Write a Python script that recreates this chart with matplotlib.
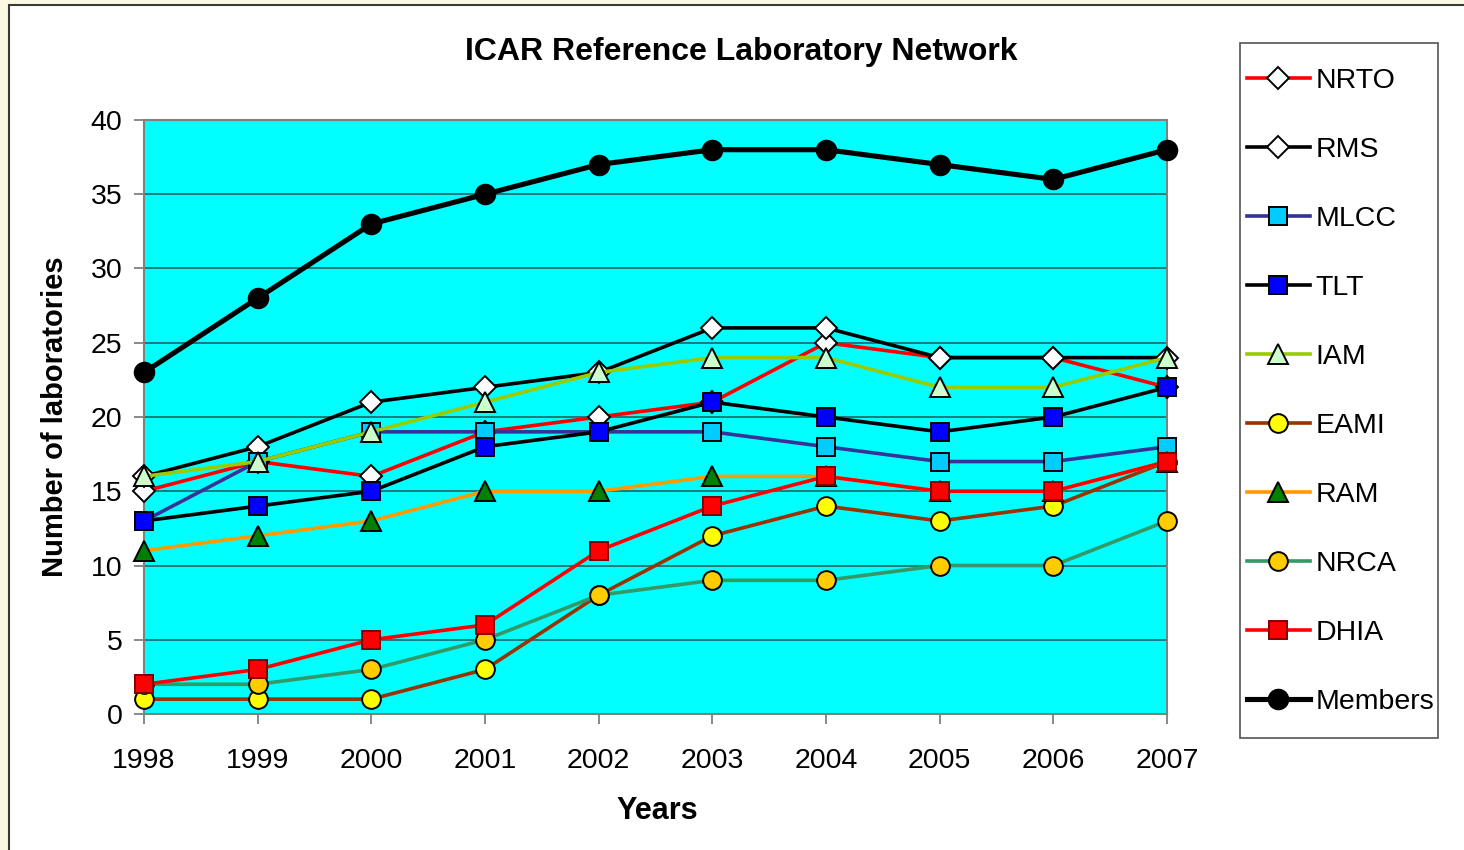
import matplotlib
matplotlib.use("Agg")
import matplotlib.pyplot as plt
from matplotlib.patches import Rectangle

years = [1998, 1999, 2000, 2001, 2002, 2003, 2004, 2005, 2006, 2007]
nrto = [15, 17, 16, 19, 20, 21, 25, 24, 24, 22]
rms = [16, 18, 21, 22, 23, 26, 26, 24, 24, 24]
mlcc = [13, 17, 19, 19, 19, 19, 18, 17, 17, 18]
tlt = [13, 14, 15, 18, 19, 21, 20, 19, 20, 22]
iam = [16, 17, 19, 21, 23, 24, 24, 22, 22, 24]
eami = [1, 1, 1, 3, 8, 12, 14, 13, 14, 17]
ram = [11, 12, 13, 15, 15, 16, 16, 15, 15, 17]
nrca = [2, 2, 3, 5, 8, 9, 9, 10, 10, 13]
dhia = [2, 3, 5, 6, 11, 14, 16, 15, 15, 17]
members = [23, 28, 33, 35, 37, 38, 38, 37, 36, 38]

plt.rcParams['font.family'] = ['Liberation Sans', 'DejaVu Sans']

W, H = 1464, 850
fig = plt.figure(figsize=(W / 100, H / 100), dpi=100)
fig.patch.set_facecolor('#fbf9e2')
fig.patches.append(Rectangle((9 / W, -0.01), 1.0, 1 - 5 / H + 0.01, transform=fig.transFigure,
                             facecolor='white', edgecolor='#3a3a3a', linewidth=1.5, zorder=-10))

ax = fig.add_axes([144 / W, 1 - 714 / H, (1167 - 144) / W, (714 - 120) / H])
ax.set_facecolor('#00ffff')

series = [
    ('NRTO', nrto, '#ff0000', 'D', 'white', 'black', 11.5),
    ('RMS', rms, '#000000', 'D', 'white', 'black', 11.5),
    ('MLCC', mlcc, '#333399', 's', '#00ccff', 'black', 12.5),
    ('TLT', tlt, '#000000', 's', '#0000ff', 'black', 12.5),
    ('IAM', iam, '#99cc00', '^', '#ccffcc', 'black', 14),
    ('EAMI', eami, '#993300', 'o', '#ffff00', 'black', 13.5),
    ('RAM', ram, '#ff9900', '^', '#008000', 'black', 14),
    ('NRCA', nrca, '#339966', 'o', '#ffcc00', 'black', 13.5),
    ('DHIA', dhia, '#ff0000', 's', '#ff0000', '#800000', 12.5),
]
handles = []
for i, (name, vals, lc, mk, mfc, mec, ms) in enumerate(series):
    h, = ax.plot(years, vals, color=lc, lw=2.6, marker=mk, markersize=ms,
                 markerfacecolor=mfc, markeredgecolor=mec, markeredgewidth=1.4,
                 label=name, zorder=3 + i, clip_on=False)
    handles.append(h)
h, = ax.plot(years, members, color='black', lw=3.7, marker='o', markersize=14.5,
             markerfacecolor='black', markeredgecolor='black', label='Members',
             zorder=20, clip_on=False)
handles.append(h)

ax.set_xlim(1998, 2007)
ax.set_ylim(0, 40)
ax.set_yticks(range(0, 41, 5))
ax.set_xticks(years)
ax.grid(axis='y', color='#1f6f6f', linewidth=1.3, zorder=1)
ax.set_axisbelow(True)
for s in ax.spines.values():
    s.set_color('#808080')
    s.set_linewidth(1.5)
ax.tick_params(axis='both', direction='out', length=7.5, width=1.3, color='#808080',
               labelsize=20.5)
ax.tick_params(axis='x', pad=17)
ax.tick_params(axis='y', pad=8)

fig.text(741 / W, 1 - 52 / H, 'ICAR Reference Laboratory Network', ha='center', va='center',
         fontsize=23, fontweight='bold')
fig.text(657 / W, 1 - 811 / H, 'Years', ha='center', va='center', fontsize=22, fontweight='bold')
fig.text(55 / W, 1 - 417 / H, 'Number of laboratories', ha='center', va='center',
         rotation=90, fontsize=21, fontweight='bold')

fig.patches.append(Rectangle((1240 / W, 1 - 738 / H), 198 / W, 695 / H, transform=fig.transFigure,
                             facecolor='white', edgecolor='#555555', linewidth=1.2, zorder=1))
leg = fig.legend(handles=handles, loc='upper left', bbox_to_anchor=(1247 / W, 1 - 68 / H),
                 bbox_transform=fig.transFigure, fontsize=20.5, frameon=False,
                 labelspacing=1.51, handlelength=2.2, handletextpad=0.2,
                 borderpad=0, borderaxespad=0, markerscale=1.0)
leg.set_zorder(5)

fig.savefig('out.png', dpi=100, facecolor=fig.get_facecolor())
